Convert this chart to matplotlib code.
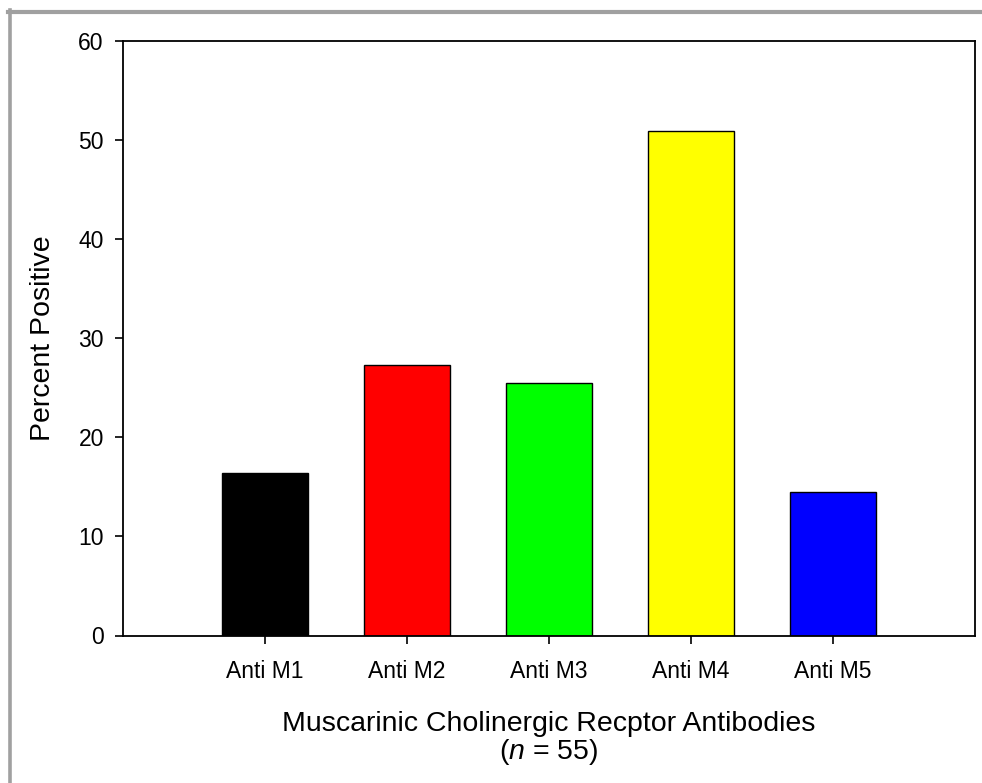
import matplotlib
matplotlib.use("Agg")
import matplotlib.pyplot as plt
from matplotlib.lines import Line2D

plt.rcParams["font.family"] = ["Liberation Sans", "DejaVu Sans"]
plt.rcParams["mathtext.fontset"] = "custom"
plt.rcParams["mathtext.rm"] = "Liberation Sans"
plt.rcParams["mathtext.it"] = "Liberation Sans:italic"

LABELS = ["Anti M1", "Anti M2", "Anti M3", "Anti M4", "Anti M5"]
PERCENT = [16.4, 27.3, 25.5, 50.9, 14.5]
COLORS = ["#000000", "#ff0000", "#00ff00", "#ffff00", "#0000ff"]
YTICKS = [0, 10, 20, 30, 40, 50, 60]

W, H = 982, 783
fig = plt.figure(figsize=(W / 100, H / 100), dpi=100)
ax = fig.add_axes([123 / W, 1 - 635.5 / H, (975 - 123) / W, (635.5 - 41) / H])

pos = range(1, len(LABELS) + 1)
ax.bar(pos, PERCENT, width=0.61, color=COLORS, edgecolor="black",
       linewidth=1.0, zorder=2)

ax.set_xlim(0, 6)
ax.set_ylim(0, 60)
ax.set_xticks(list(pos), LABELS)
ax.set_yticks(YTICKS)
ax.tick_params(axis="both", direction="out", length=5.8, width=1.2,
               labelsize=16.5)
ax.tick_params(axis="y", pad=8)
ax.tick_params(axis="x", pad=12)
for sp in ax.spines.values():
    sp.set_linewidth(1.3)

ax.set_ylabel("Percent Positive", fontsize=20.5, labelpad=16)
ax.set_xlabel("Muscarinic Cholinergic Recptor Antibodies\n($n$ = 55)",
              fontsize=20.5, labelpad=20, linespacing=1.0)

# grey frame along top and left edge of the picture
fig.add_artist(Line2D([8 / W, 1], [1 - 12 / H, 1 - 12 / H],
                      transform=fig.transFigure, color="#a0a0a0", lw=3))
fig.add_artist(Line2D([9.5 / W, 9.5 / W], [0, 1 - 10 / H],
                      transform=fig.transFigure, color="#a0a0a0", lw=2.6))

fig.savefig("out.png", dpi=100)
